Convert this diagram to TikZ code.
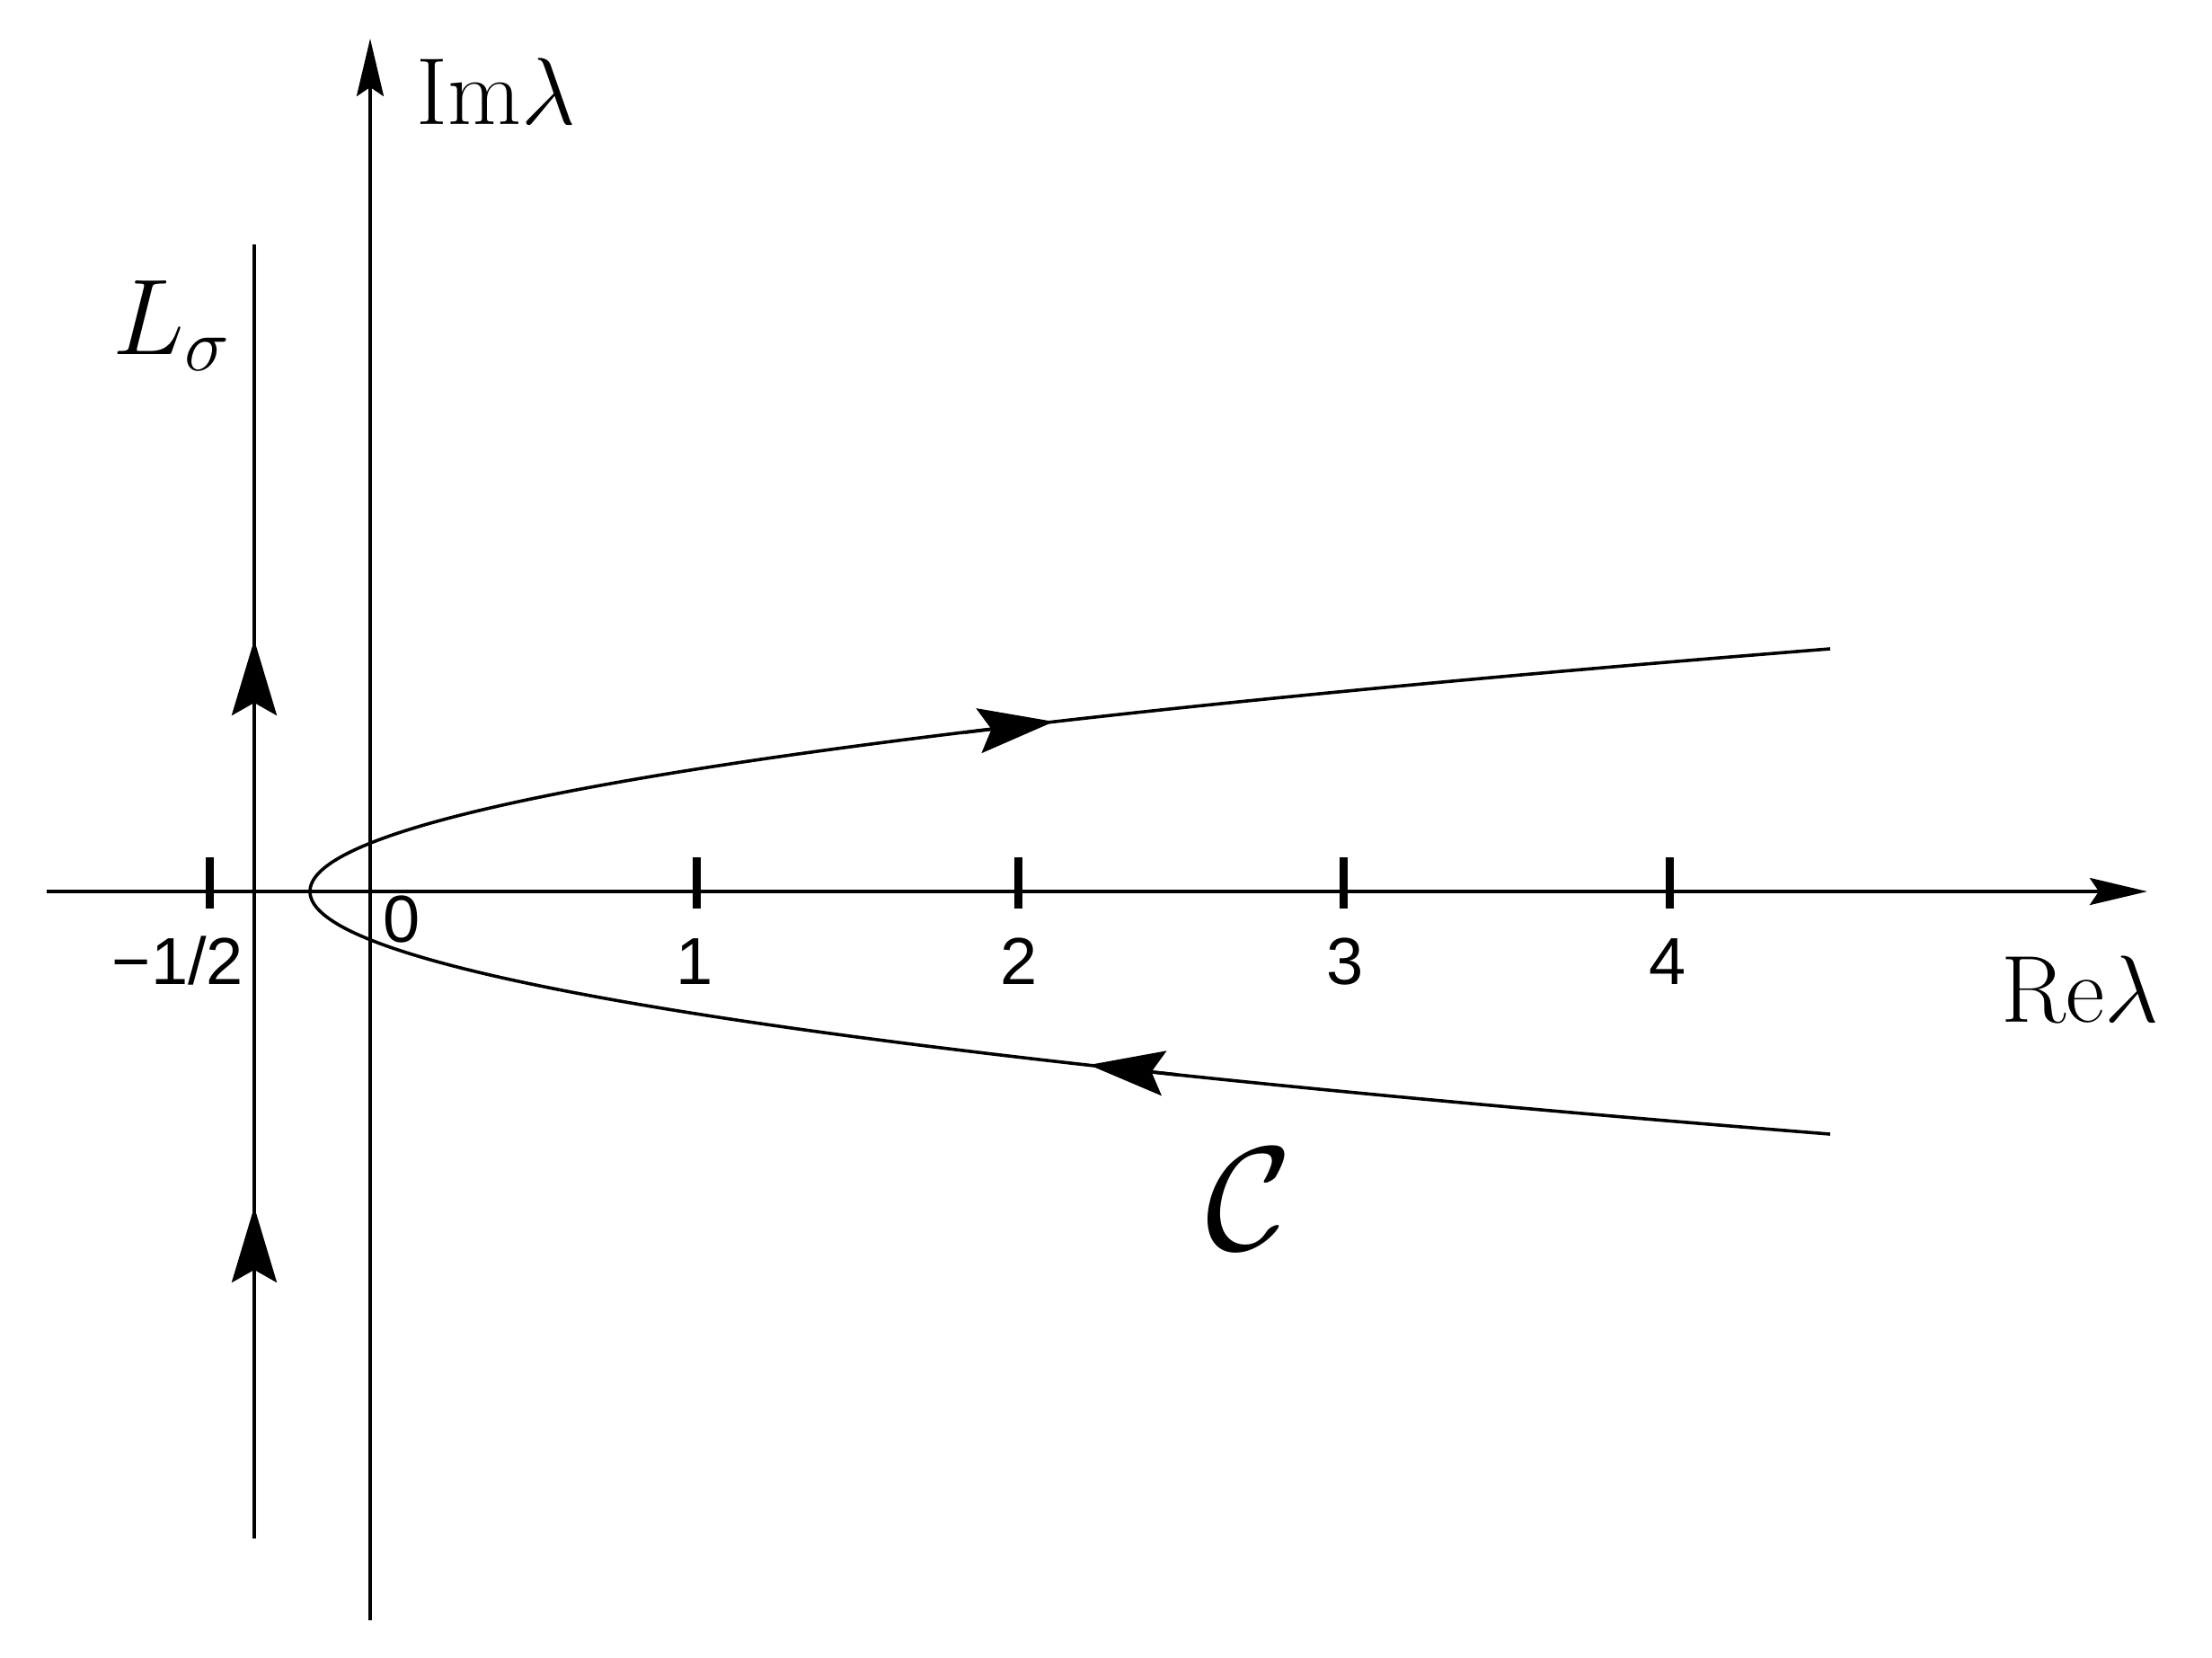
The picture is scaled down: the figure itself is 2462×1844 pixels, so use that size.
\RequirePackage{fix-cm}
\documentclass[tikz,border=0pt]{standalone}
\usepackage{fontspec}
\newfontfamily\digitfont{Liberation Sans}
\usetikzlibrary{arrows.meta}
\begin{document}
\begin{tikzpicture}[x=0.5pt,y=-0.5pt,
  axis/.style={line width=2pt},
  curve/.style={line width=1.8pt},
  tickmark/.style={line width=4.5pt},
  axtip/.style={-{Stealth[length=32pt,width=15pt,inset=5pt]}},
  bigtip/.style={-{Stealth[length=42pt,width=25pt,inset=7pt]}},
  lbl/.style={inner sep=0pt,anchor=base west,font=\fontsize{53pt}{60pt}\selectfont},
  num/.style={inner sep=0pt,anchor=base,font=\digitfont\fontsize{37pt}{42pt}\selectfont}]
\useasboundingbox (0,0) rectangle (2462,1844);
% axes
\coordinate (xs) at (52,992);
\coordinate (xe) at (2390,992);
\coordinate (ys) at (412,1803);
\coordinate (ye) at (412,43);
\draw[axis,axtip] (xs) -- (xe);
\draw[axis,axtip] (ys) -- (ye);
% ticks
\foreach \t in {233,775,1133,1495,1858}
  \draw[tickmark] (\t,954) -- (\t,1011);
% L sigma line
\coordinate (Ls) at (283,1712);
\coordinate (Le) at (283,272);
\draw[axis] (Ls) -- (Le);
\coordinate (La1) at (283,712);
\coordinate (La1b) at (283,812);
\coordinate (La2) at (283,1343);
\coordinate (La2b) at (283,1443);
\draw[axis,bigtip] (La1b) -- (La1);
\draw[axis,bigtip] (La2b) -- (La2);
% contour C (parabola)
\draw[curve] plot[domain=-270:270,samples=121,smooth] ({345+0.02321*(\x)*(\x)},{992+(\x)});
\coordinate (Ua) at (1074,815);
\coordinate (Ub) at (1173,803);
\coordinate (Da) at (1311,1196);
\coordinate (Db) at (1212,1185);
\draw[curve,bigtip] (Ua) -- (Ub);
\draw[curve,bigtip] (Da) -- (Db);
% labels
\node[lbl] (im) at (463,138) {Im$\lambda$};
\node[lbl] (re) at (2227,1137) {Re$\lambda$};
\node[inner sep=0pt,anchor=base west,font=\fontsize{60pt}{70pt}\selectfont] (L) at (125,394) {$L_\sigma$};
\node[inner sep=0pt,anchor=base west,font=\fontsize{82pt}{90pt}\selectfont] (C) at (1342,1390) {$\mathcal{C}$};
\node[num] (nmh) at (198,1095) {−1/2};
\node[num] (n0) at (447,1048) {0};
\node[num] (n1) at (773,1095) {1};
\node[num] (n2) at (1134,1095) {2};
\node[num] (n3) at (1497,1095) {3};
\node[num] (n4) at (1856,1095) {4};
\end{tikzpicture}
\end{document}
